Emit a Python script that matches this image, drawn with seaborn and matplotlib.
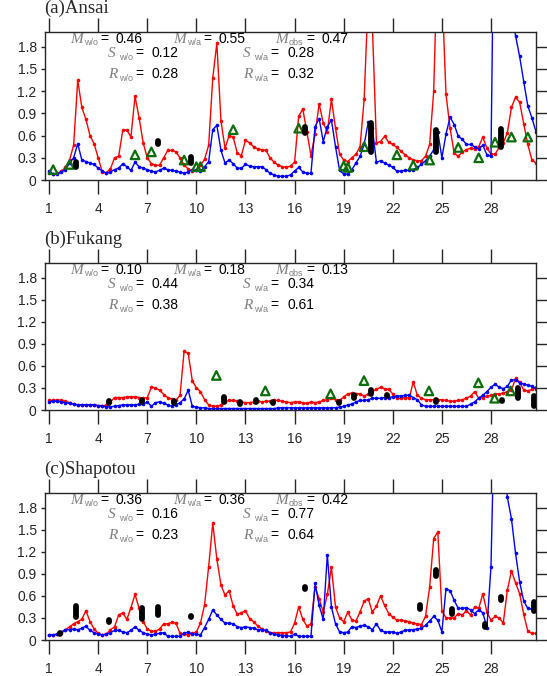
import numpy as np
import pandas as pd
import matplotlib
matplotlib.use('Agg')
import matplotlib.pyplot as plt
import seaborn as sns

W, H = 547, 676

# 6-hourly time axis (day of month)
days = np.arange(1, 31, 0.25)

# ---- (a) Ansai ----
ansai_red = [0.10, 0.08, 0.09, 0.12, 0.17, 0.27, 0.47, 1.35, 0.98, 0.82, 0.60, 0.49,
             0.30, 0.11, 0.10, 0.15, 0.30, 0.32, 0.67, 0.68, 0.58, 1.13, 0.84, 0.50,
             0.30, 0.22, 0.20, 0.20, 0.30, 0.40, 0.40, 0.38, 0.30, 0.20, 0.15, 0.12,
             0.13, 0.20, 0.28, 0.47, 1.38, 1.85, 0.80, 0.43, 0.60, 0.58, 0.36, 0.33,
             0.54, 0.50, 0.45, 0.42, 0.41, 0.40, 0.30, 0.24, 0.20, 0.18, 0.17, 0.19,
             0.24, 0.86, 0.96, 0.65, 0.33, 0.62, 1.03, 0.77, 0.65, 1.09, 0.70, 0.35,
             0.27, 0.25, 0.30, 0.35, 0.45, 1.09, 2.50, 2.10, 0.50, 0.52, 0.59, 0.51,
             0.48, 0.44, 0.39, 0.34, 0.30, 0.27, 0.26, 0.26, 0.32, 0.48, 1.20, 3.20,
             2.60, 1.16, 0.70, 0.36, 0.32, 0.38, 0.41, 0.43, 0.42, 0.45, 0.58, 0.43,
             0.35, 0.35, 0.44, 0.50, 0.64, 0.98, 1.12, 1.05, 0.76, 0.48, 0.27, 0.23]
ansai_blue = [0.12, 0.08, 0.08, 0.11, 0.14, 0.23, 0.30, 0.49, 0.27, 0.25, 0.23, 0.21,
              0.16, 0.12, 0.09, 0.11, 0.14, 0.16, 0.22, 0.18, 0.13, 0.24, 0.18, 0.16,
              0.14, 0.12, 0.11, 0.13, 0.16, 0.14, 0.13, 0.12, 0.11, 0.09, 0.11, 0.14,
              0.13, 0.12, 0.18, 0.25, 0.68, 0.74, 0.40, 0.23, 0.27, 0.22, 0.16, 0.16,
              0.21, 0.19, 0.18, 0.18, 0.18, 0.14, 0.09, 0.07, 0.05, 0.05, 0.05, 0.07,
              0.12, 0.17, 0.11, 0.09, 0.09, 0.72, 0.83, 0.52, 0.72, 0.81, 0.45, 0.13,
              0.08, 0.08, 0.14, 0.23, 0.32, 0.48, 0.78, 0.70, 0.24, 0.26, 0.23, 0.20,
              0.17, 0.12, 0.12, 0.13, 0.13, 0.14, 0.17, 0.21, 0.26, 0.32, 0.41, 0.65,
              0.30, 0.62, 0.85, 0.75, 0.59, 0.55, 0.48, 0.48, 0.45, 0.42, 0.47, 0.34,
              0.32, 5.00, 3.50, 3.00, 2.60, 2.30, 1.95, 1.67, 1.33, 1.00, 0.84, 0.65]
ansai_tri_x = [1.25, 2.25, 6.25, 7.25, 9.25, 10.0, 10.25, 12.25, 16.25, 19.0,
               19.25, 20.25, 22.25, 23.25, 24.25, 26.0, 27.25, 28.25, 29.25, 30.25]
ansai_tri_y = [0.14, 0.21, 0.34, 0.38, 0.27, 0.18, 0.18, 0.68, 0.70, 0.19,
               0.17, 0.45, 0.34, 0.20, 0.27, 0.44, 0.30, 0.51, 0.58, 0.58]
ansai_obs_x = [2.67, 7.66, 9.65, 16.64, 20.65, 24.62, 28.61]
ansai_obs_lo = [0.18, 0.49, 0.23, 0.63, 0.38, 0.38, 0.45]
ansai_obs_hi = [0.24, 0.53, 0.31, 0.72, 0.77, 0.68, 0.69]

# ---- (b) Fukang ----
fukang_red = [0.13, 0.13, 0.14, 0.13, 0.12, 0.10, 0.08, 0.07, 0.07, 0.07, 0.07, 0.07,
              0.06, 0.05, 0.07, 0.11, 0.17, 0.17, 0.17, 0.18, 0.18, 0.18, 0.17, 0.16,
              0.17, 0.31, 0.30, 0.27, 0.21, 0.17, 0.15, 0.13, 0.20, 0.80, 0.77, 0.40,
              0.30, 0.25, 0.14, 0.07, 0.05, 0.05, 0.07, 0.11, 0.13, 0.13, 0.12, 0.11,
              0.10, 0.10, 0.11, 0.12, 0.11, 0.12, 0.12, 0.13, 0.13, 0.12, 0.11, 0.10,
              0.11, 0.11, 0.10, 0.09, 0.11, 0.10, 0.11, 0.13, 0.14, 0.16, 0.14, 0.13,
              0.18, 0.22, 0.23, 0.22, 0.22, 0.19, 0.22, 0.26, 0.28, 0.31, 0.29, 0.28,
              0.22, 0.16, 0.16, 0.17, 0.16, 0.38, 0.20, 0.16, 0.14, 0.14, 0.14, 0.14,
              0.14, 0.13, 0.12, 0.12, 0.13, 0.14, 0.16, 0.19, 0.25, 0.16, 0.17, 0.19,
              0.20, 0.22, 0.22, 0.23, 0.25, 0.27, 0.43, 0.38, 0.27, 0.26, 0.28, 0.31]
fukang_blue = [0.11, 0.12, 0.12, 0.11, 0.10, 0.09, 0.08, 0.07, 0.07, 0.07, 0.07, 0.07,
               0.06, 0.06, 0.04, 0.045, 0.05, 0.06, 0.07, 0.07, 0.07, 0.07, 0.08, 0.08,
               0.11, 0.05, 0.10, 0.11, 0.09, 0.07, 0.05, 0.07, 0.10, 0.15, 0.27, 0.05,
               0.04, 0.03, 0.03, 0.02, 0.02, 0.02, 0.02, 0.02, 0.02, 0.02, 0.02, 0.02,
               0.02, 0.02, 0.02, 0.02, 0.02, 0.02, 0.02, 0.02, 0.03, 0.03, 0.03, 0.03,
               0.03, 0.03, 0.03, 0.03, 0.03, 0.03, 0.03, 0.03, 0.03, 0.03, 0.03, 0.04,
               0.05, 0.07, 0.08, 0.11, 0.13, 0.13, 0.14, 0.16, 0.16, 0.16, 0.17, 0.17,
               0.18, 0.19, 0.19, 0.20, 0.20, 0.17, 0.14, 0.07, 0.05, 0.05, 0.05, 0.05,
               0.05, 0.05, 0.05, 0.05, 0.05, 0.05, 0.05, 0.08, 0.11, 0.16, 0.20, 0.25,
               0.31, 0.35, 0.31, 0.29, 0.32, 0.41, 0.41, 0.37, 0.35, 0.34, 0.32, 0.29]
fukang_tri_x = [11.22, 14.21, 18.2, 20.24, 24.21, 27.23, 28.22, 29.2]
fukang_tri_y = [0.47, 0.26, 0.22, 0.40, 0.26, 0.37, 0.16, 0.26]
fukang_obs_x = [4.67, 6.66, 8.64, 11.69, 12.67, 13.66, 14.66, 18.69, 19.65, 20.65,
                21.66, 24.66, 28.67, 29.67, 30.65]
fukang_obs_lo = [0.10, 0.11, 0.10, 0.11, 0.08, 0.11, 0.09, 0.09, 0.17, 0.22,
                 0.19, 0.11, 0.12, 0.17, 0.06]
fukang_obs_hi = [0.12, 0.13, 0.12, 0.18, 0.11, 0.13, 0.11, 0.11, 0.20, 0.27,
                 0.21, 0.13, 0.14, 0.30, 0.19]

# ---- (c) Shapotou ----
shapotou_red = [0.07, 0.07, 0.08, 0.10, 0.14, 0.18, 0.22, 0.25, 0.28, 0.40, 0.25, 0.15,
                0.09, 0.07, 0.08, 0.14, 0.18, 0.34, 0.37, 0.28, 0.44, 0.62, 0.43, 0.25,
                0.15, 0.12, 0.12, 0.15, 0.22, 0.22, 0.24, 0.23, 0.09, 0.08, 0.07, 0.09,
                0.11, 0.23, 0.48, 1.00, 1.59, 1.10, 0.75, 0.61, 0.67, 0.46, 0.35, 0.37,
                0.40, 0.29, 0.25, 0.19, 0.15, 0.12, 0.10, 0.10, 0.10, 0.10, 0.10, 0.11,
                0.23, 0.45, 0.28, 0.19, 0.22, 0.72, 0.56, 0.38, 0.62, 0.99, 0.45, 0.30,
                0.25, 0.38, 0.27, 0.26, 0.38, 0.53, 0.56, 0.38, 0.46, 0.60, 0.47, 0.36,
                0.31, 0.27, 0.27, 0.26, 0.25, 0.23, 0.22, 0.21, 0.32, 0.72, 1.38, 1.47,
                0.40, 0.30, 0.30, 0.30, 0.36, 0.34, 0.40, 0.34, 0.45, 0.43, 0.63, 0.38,
                0.27, 0.32, 0.30, 0.23, 0.68, 0.94, 0.78, 0.63, 0.35, 0.12, 0.09, 0.09]
shapotou_blue = [0.07, 0.07, 0.08, 0.11, 0.14, 0.14, 0.15, 0.14, 0.16, 0.19, 0.13, 0.10,
                 0.08, 0.07, 0.08, 0.10, 0.13, 0.13, 0.11, 0.10, 0.13, 0.18, 0.13, 0.10,
                 0.08, 0.07, 0.08, 0.09, 0.10, 0.05, 0.05, 0.05, 0.05, 0.09, 0.11, 0.08,
                 0.08, 0.07, 0.17, 0.28, 0.41, 0.34, 0.28, 0.23, 0.23, 0.22, 0.18, 0.17,
                 0.18, 0.17, 0.16, 0.14, 0.14, 0.13, 0.10, 0.08, 0.07, 0.06, 0.06, 0.05,
                 0.08, 0.05, 0.05, 0.05, 0.05, 0.77, 0.47, 0.28, 1.16, 0.45, 0.22, 0.11,
                 0.10, 0.11, 0.18, 0.17, 0.19, 0.20, 0.18, 0.14, 0.22, 0.13, 0.11, 0.11,
                 0.11, 0.09, 0.11, 0.13, 0.14, 0.14, 0.15, 0.16, 0.20, 0.26, 0.32, 0.27,
                 0.11, 0.70, 0.67, 0.54, 0.43, 0.43, 0.44, 0.41, 0.36, 0.41, 0.37, 0.17,
                 1.00, 3.50, 3.50, 2.60, 1.94, 1.65, 1.18, 0.79, 0.53, 0.43, 0.42, 0.39]
shapotou_tri_x = []
shapotou_tri_y = []
shapotou_obs_x = [1.67, 2.67, 4.67, 6.66, 7.66, 9.66, 16.64, 23.64, 24.62, 25.62,
                  27.62, 28.61, 30.65]
shapotou_obs_lo = [0.08, 0.31, 0.25, 0.29, 0.34, 0.31, 0.70, 0.42, 0.87, 0.36,
                   0.18, 0.55, 0.40]
shapotou_obs_hi = [0.10, 0.46, 0.27, 0.43, 0.45, 0.33, 0.72, 0.48, 0.95, 0.42,
                   0.22, 0.59, 0.52]

titles = ['(a)Ansai', '(b)Fukang', '(c)Shapotou']
stats_m = [('0.46', '0.55', '0.47'), ('0.10', '0.18', '0.13'), ('0.36', '0.36', '0.42')]
stats_s = [('0.12', '0.28'), ('0.44', '0.34'), ('0.16', '0.77')]
stats_r = [('0.28', '0.32'), ('0.38', '0.61'), ('0.23', '0.64')]

sns.set_style('ticks')
plt.rcParams['font.family'] = ['Liberation Sans', 'DejaVu Sans']

fig = plt.figure(figsize=(W / 100, H / 100), dpi=100)

GREY = '#7f7f7f'


def fx(x):
    return x / W


def fy(y):
    return 1 - y / H


def stat_item(x, y, letter, sub, val, off):
    # off: offsets of subscript, '=' and value from the letter, in pixels
    fig.text(fx(x), fy(y), letter, family='Liberation Serif', style='italic',
             fontsize=11, color=GREY, va='baseline')
    fig.text(fx(x + off[0]), fy(y + 2.5), sub, fontsize=6.5, color=GREY, va='baseline')
    fig.text(fx(x + off[1]), fy(y), '=', fontsize=10, color='black', va='baseline')
    fig.text(fx(x + off[2]), fy(y), val, fontsize=10, color='black', va='baseline')


def draw_panel(ax, top, k, red, blue, tri_x, tri_y, obs_x, obs_lo, obs_hi):
    df = pd.DataFrame({'day': days, 'red': red, 'blue': blue})
    sns.lineplot(data=df, x='day', y='red', ax=ax, color='red', linewidth=1,
                 marker='o', markersize=2.6, markeredgewidth=0)
    sns.lineplot(data=df, x='day', y='blue', ax=ax, color='blue', linewidth=1,
                 marker='o', markersize=2.6, markeredgewidth=0)
    if len(tri_x):
        sns.scatterplot(x=tri_x, y=tri_y, ax=ax, marker='^', s=38,
                        facecolor='none', edgecolor='#0a6e0a', linewidth=1.6, zorder=5)
    vl = ax.vlines(obs_x, obs_lo, obs_hi, colors='black', linewidth=4.2, zorder=6)
    vl.set_capstyle('round')

    ax.set_xlim(0.75, 30.75)
    ax.set_ylim(0, 2.0)
    ax.set_xticks([1, 4, 7, 10, 13, 16, 19, 22, 25, 28])
    ax.set_yticks([0, 0.3, 0.6, 0.9, 1.2, 1.5, 1.8])
    ax.set_yticklabels(['0', '0.3', '0.6', '0.9', '1.2', '1.5', '1.8'])
    ax.set_xlabel('')
    ax.set_ylabel('')
    for sp in ax.spines.values():
        sp.set_visible(True)
        sp.set_linewidth(1.0)
    ax.tick_params(axis='x', which='both', direction='out', length=10, width=1,
                   top=True, bottom=True, labeltop=False, labelsize=10, pad=5.5)
    ax.tick_params(axis='y', which='both', direction='out', width=1,
                   left=True, right=True, labelright=False, labelsize=10, pad=3)
    ax.tick_params(axis='y', which='major', length=3)
    for t in ax.yaxis.get_major_ticks():
        t.tick2line.set_markersize(10)

    fig.text(fx(44), fy(top - 19), titles[k], family='Liberation Serif',
             fontsize=13.5, va='baseline')
    ym, ys, yr = top + 10.7, top + 25.3, top + 46.3
    stat_item(70, ym, 'M', 'w/o', stats_m[k][0], (14, 30, 45))
    stat_item(173, ym, 'M', 'w/a', stats_m[k][1], (14, 30, 45))
    stat_item(275, ym, 'M', 'obs', stats_m[k][2], (14, 31, 46))
    stat_item(108, ys, 'S', 'w/o', stats_s[k][0], (11, 27, 44))
    stat_item(243, ys, 'S', 'w/a', stats_s[k][1], (11, 27, 44))
    stat_item(108, yr, 'R', 'w/o', stats_r[k][0], (11, 27, 44))
    stat_item(243, yr, 'R', 'w/a', stats_r[k][1], (11, 27, 44))


panels = [
    (32, 180, ansai_red, ansai_blue, ansai_tri_x, ansai_tri_y, ansai_obs_x, ansai_obs_lo, ansai_obs_hi),
    (263, 410, fukang_red, fukang_blue, fukang_tri_x, fukang_tri_y, fukang_obs_x, fukang_obs_lo, fukang_obs_hi),
    (493, 640, shapotou_red, shapotou_blue, shapotou_tri_x, shapotou_tri_y, shapotou_obs_x, shapotou_obs_lo, shapotou_obs_hi),
]

for k, (top, bottom, red, blue, tx, ty, ox, olo, ohi) in enumerate(panels):
    ax = fig.add_axes([45 / W, 1 - bottom / H, 491 / W, (bottom - top) / H])
    draw_panel(ax, top, k, red, blue, tx, ty, ox, olo, ohi)

fig.savefig('out.png', dpi=100)
